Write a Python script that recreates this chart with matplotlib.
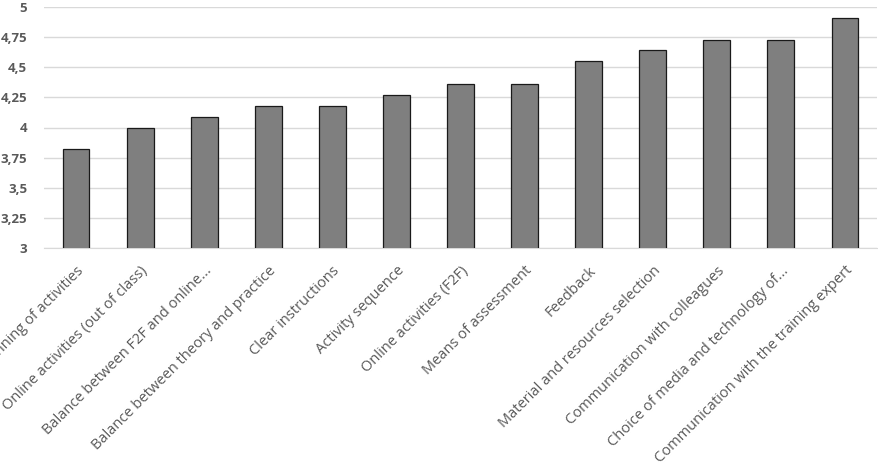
import matplotlib
matplotlib.use("Agg")
import matplotlib.pyplot as plt
from matplotlib.ticker import FuncFormatter

categories = [
    "Planning of activities",
    "Online activities (out of class)",
    "Balance between F2F and online...",
    "Balance between theory and practice",
    "Clear instructions",
    "Activity sequence",
    "Online activities (F2F)",
    "Means of assessment",
    "Feedback",
    "Material and resources selection",
    "Communication with colleagues",
    "Choice of media and technology of...",
    "Communication with the training expert",
]
scores = [3.82, 4.00, 4.09, 4.18, 4.18, 4.27, 4.36, 4.36, 4.55, 4.64, 4.73, 4.73, 4.91]
yticks = [3, 3.25, 3.5, 3.75, 4, 4.25, 4.5, 4.75, 5]

txt = "#595959"

fig = plt.figure(figsize=(8.79, 4.74), dpi=100)
ax = fig.add_axes([44 / 879, 1 - 248 / 474, 833 / 879, 241 / 474])

x = range(len(categories))
ax.bar(x, scores, width=0.42, bottom=0, color="#7f7f7f", edgecolor="#1a1a1a",
       linewidth=0.9, zorder=3)

ax.set_ylim(3, 5)
ax.set_xlim(-0.5, len(categories) - 0.5)
ax.set_yticks(yticks)
ax.yaxis.set_major_formatter(FuncFormatter(lambda v, p: ("%g" % v).replace(".", ",")))
ax.grid(axis="y", color="#d9d9d9", linewidth=1, zorder=0)
for s in ["top", "right", "left"]:
    ax.spines[s].set_visible(False)
ax.spines["bottom"].set_color("#d9d9d9")

ax.tick_params(axis="y", length=0, pad=12, labelcolor=txt)
ax.tick_params(axis="x", length=0, pad=11)
for lab in ax.get_yticklabels():
    lab.set_fontweight("bold")
    lab.set_fontsize(9.5)
    lab.set_family("Open Sans")

ax.set_xticks(list(x))
ax.set_xticklabels(categories, rotation=45, ha="right", rotation_mode="anchor",
                   fontsize=10.5, color=txt, family="Open Sans")

fig.savefig("out.png", dpi=100)
